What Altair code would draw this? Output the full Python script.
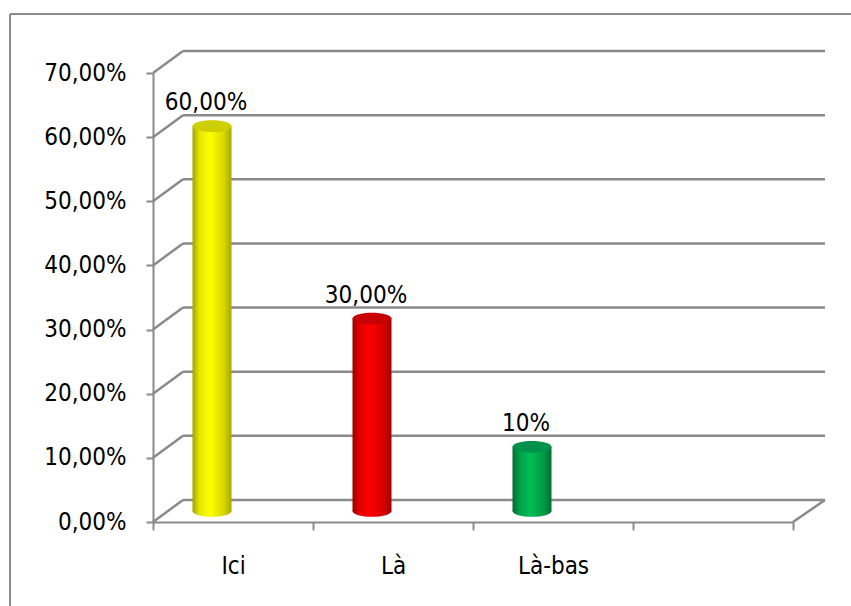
import altair as alt
import pandas as pd

# ---- data ----
categories = ["Ici", "Là", "Là-bas"]
values = [60, 30, 10]
value_labels = ["60,00%", "30,00%", "10%"]
axis_domain = ["Ici", "Là", "Là-bas", " "]
y_ticks = [0, 10, 20, 30, 40, 50, 60, 70]

# cylinder colours per category: edge-dark, mid, centre, top cap
body_colors = {
    "Ici": ["#a3a300", "#e6e600", "#ffff00", "#d8d800", "#a8a800"],
    "Là": ["#9c0000", "#e00000", "#ff0000", "#d40000", "#a00000"],
    "Là-bas": ["#006b30", "#00a047", "#00bd57", "#009a45", "#006e32"],
}
top_colors = {"Ici": "#cfcf00", "Là": "#c80000", "Là-bas": "#00914a"}

FONT = "'Liberation Sans Narrow', 'DejaVu Sans Condensed', 'Liberation Sans', sans-serif"
GRID = "#8a8a8a"
FS = 24
ELLIPSE = "M -1 0 A 1 0.3 0 1 0 1 0 A 1 0.3 0 1 0 -1 0 Z"

bars_df = pd.DataFrame({"cat": categories, "value": values, "label": value_labels})
grid_df = pd.DataFrame({"v": y_ticks})
zero_df = pd.DataFrame({"v": [0]})

yscale = alt.Scale(domain=[0, 70], nice=False, zero=True)
xscale = alt.Scale(domain=axis_domain, paddingInner=0, paddingOuter=0)


def Y(field):
    return alt.Y(
        field,
        type="quantitative",
        scale=yscale,
        axis=alt.Axis(
            values=y_ticks,
            labelExpr="replace(format(datum.value, '.2f'), '.', ',') + '%'",
            title=None,
            grid=False,
            domainColor=GRID,
            domainWidth=2,
            tickColor=GRID,
            tickWidth=2,
            tickSize=7,
            labelPadding=20,
            labelFont=FONT,
            labelFontSize=FS,
            labelColor="#000000",
        ),
    )


X = alt.X(
    "cat:N",
    scale=xscale,
    sort=axis_domain,
    axis=alt.Axis(
        title=None,
        labelAngle=0,
        tickBand="extent",
        domainColor=GRID,
        domainWidth=2,
        tickColor=GRID,
        tickWidth=2,
        tickSize=8,
        labelPadding=43,
        labelBaseline="alphabetic",
        labelFont=FONT,
        labelFontSize=FS,
        labelColor="#000000",
    ),
)

layers = []

# back wall gridlines
layers.append(
    alt.Chart(grid_df)
    .mark_rule(color=GRID, strokeWidth=2.5, yOffset=-22)
    .encode(y=Y("v"), x=alt.value(30), x2=alt.value(672))
)
# side diagonals
layers.append(
    alt.Chart(grid_df)
    .mark_rule(color=GRID, strokeWidth=2.5, y2Offset=-22)
    .encode(y=Y("v"), y2=alt.Y2("v"), x=alt.value(0), x2=alt.value(30))
)
# floor right diagonal
layers.append(
    alt.Chart(zero_df)
    .mark_rule(color=GRID, strokeWidth=2.5, y2Offset=-22)
    .encode(y=Y("v"), y2=alt.Y2("v"), x=alt.value(640), x2=alt.value(672))
)
# outer frame (top and left edges)
frame_df = pd.DataFrame({"a": [0]})
layers.append(
    alt.Chart(frame_df)
    .mark_rule(color="#8c8c8c", strokeWidth=2)
    .encode(x=alt.value(-143), y=alt.value(-59), y2=alt.value(540))
)
layers.append(
    alt.Chart(frame_df)
    .mark_rule(color="#8c8c8c", strokeWidth=2)
    .encode(x=alt.value(-143), x2=alt.value(705), y=alt.value(-59))
)

for cat in categories:
    c = body_colors[cat]
    grad = alt.LinearGradient(
        gradient="linear",
        x1=0, x2=1, y1=0, y2=0,
        stops=[
            alt.GradientStop(offset=0, color=c[0]),
            alt.GradientStop(offset=0.18, color=c[1]),
            alt.GradientStop(offset=0.45, color=c[2]),
            alt.GradientStop(offset=0.8, color=c[3]),
            alt.GradientStop(offset=1, color=c[4]),
        ],
    )
    base = alt.Chart(bars_df).transform_filter(alt.datum.cat == cat)
    layers.append(
        base.mark_point(
            shape=ELLIPSE, size=1521, filled=True, fill=grad, strokeWidth=0,
            opacity=1, xOffset=-21, yOffset=-11,
        ).encode(x=X, y=alt.datum(0))
    )
    layers.append(
        base.mark_bar(size=39, xOffset=-21, yOffset=-11, y2Offset=-11, color=grad)
        .encode(x=X, y=Y("value"), y2=alt.datum(0))
    )
    layers.append(
        base.mark_point(
            shape=ELLIPSE, size=1521, filled=True, fill=top_colors[cat],
            strokeWidth=0, opacity=1, xOffset=-21, yOffset=-11,
        ).encode(x=X, y=Y("value"))
    )

layers.append(
    alt.Chart(bars_df)
    .mark_text(
        font=FONT, fontSize=FS, color="#000000", baseline="alphabetic",
        align="center", xOffset=-27, yOffset=-27,
    )
    .encode(x=X, y=Y("value"), text="label:N")
)

chart = (
    alt.layer(*layers)
    .properties(
        width=640,
        height=449,
        autosize=alt.AutoSizeParams(type="none"),
        padding={"left": 153, "top": 73, "right": 58, "bottom": 84},
        background="#ffffff",
    )
    .configure_view(strokeWidth=0)
)

chart.save("out.html", embed_options={"renderer": "svg", "actions": False})
